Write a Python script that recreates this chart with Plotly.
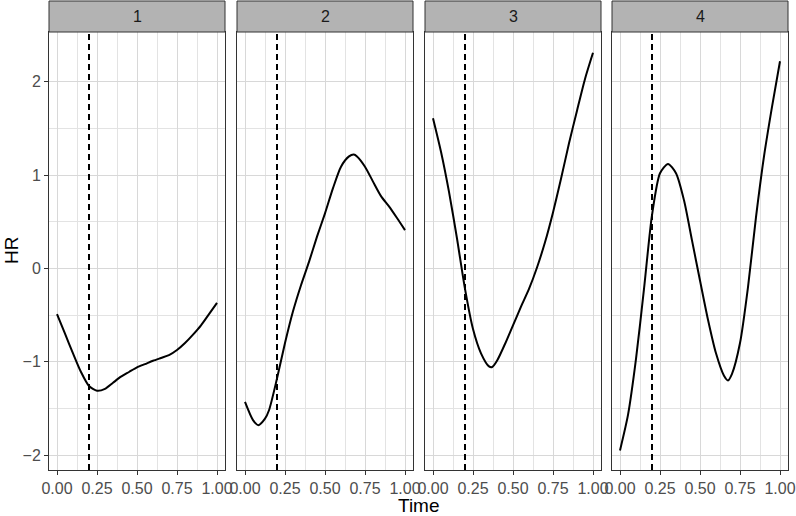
import plotly.graph_objects as go
from plotly.subplots import make_subplots

# values, one panel per facet
panels = ["1", "2", "3", "4"]

time_1 = [0.0, 0.05, 0.1, 0.15, 0.2, 0.25, 0.3, 0.35, 0.4, 0.45, 0.5, 0.55, 0.6, 0.65,
          0.7, 0.75, 0.8, 0.85, 0.9, 0.95, 1.0]
hr_1 = [-0.49, -0.70, -0.91, -1.11, -1.26, -1.31, -1.29, -1.225, -1.16, -1.11, -1.06,
        -1.025, -0.99, -0.96, -0.93, -0.875, -0.80, -0.71, -0.61, -0.49, -0.37]

time_2 = [0.0, 0.05, 0.083, 0.125, 0.15, 0.2, 0.25, 0.3, 0.35, 0.4, 0.45, 0.5, 0.55, 0.6,
          0.65, 0.68, 0.7, 0.75, 0.8, 0.85, 0.9, 0.95, 1.0]
hr_2 = [-1.43, -1.625, -1.68, -1.61, -1.52, -1.18, -0.80, -0.46, -0.18, 0.07, 0.34, 0.59,
        0.86, 1.09, 1.20, 1.22, 1.20, 1.09, 0.93, 0.775, 0.665, 0.54, 0.41]

time_3 = [0.0, 0.05, 0.1, 0.15, 0.2, 0.25, 0.3, 0.35, 0.37, 0.4, 0.45, 0.5, 0.55, 0.6,
          0.65, 0.7, 0.75, 0.8, 0.85, 0.9, 0.95, 1.0]
hr_3 = [1.61, 1.25, 0.82, 0.32, -0.22, -0.65, -0.91, -1.05, -1.057, -0.99, -0.81, -0.61,
        -0.41, -0.22, 0.01, 0.28, 0.60, 0.96, 1.34, 1.69, 2.03, 2.31]

time_4 = [0.0, 0.05, 0.1, 0.15, 0.2, 0.25, 0.3, 0.35, 0.4, 0.45, 0.5, 0.55, 0.6, 0.65, 0.675,
          0.7, 0.75, 0.8, 0.85, 0.9, 0.95, 1.0]
hr_4 = [-1.95, -1.57, -0.97, -0.22, 0.57, 1.02, 1.12, 1.02, 0.73, 0.30, -0.13, -0.55, -0.91,
        -1.15, -1.20, -1.13, -0.80, -0.20, 0.55, 1.20, 1.73, 2.22]

cutoff = 0.2
x_ticks = [0.0, 0.25, 0.5, 0.75, 1.0]
x_ticklabels = ["0.00", "0.25", "0.50", "0.75", "1.00"]
y_ticks = [-2, -1, 0, 1, 2]

times = [time_1, time_2, time_3, time_4]
hrs = [hr_1, hr_2, hr_3, hr_4]

W, H = 796, 516
# plot area in pixels (left, right, top, bottom)
L, R, T, B = 49, 788, 1, 470
pw, ph = R - L, B - T
panel_left = [49, 237, 425, 612]
panel_w = 176
panel_top = 32

fig = make_subplots(rows=1, cols=4)

for i in range(4):
    fig.add_trace(
        go.Scatter(
            x=times[i],
            y=hrs[i],
            mode="lines",
            line=dict(color="black", width=2, shape="spline", smoothing=0.7),
            showlegend=False,
            hoverinfo="skip",
        ),
        row=1,
        col=i + 1,
    )

font = "Liberation Sans, Arial, Helvetica, sans-serif"
ydom = [0, (B - panel_top) / ph]

for i in range(4):
    n = "" if i == 0 else str(i + 1)
    x0 = (panel_left[i] - L) / pw
    x1 = (panel_left[i] + panel_w - L) / pw
    fig.layout["xaxis" + n].update(
        domain=[x0, x1],
        range=[-0.05, 1.05],
        tickvals=x_ticks,
        ticktext=x_ticklabels,
        ticks="outside",
        ticklen=4,
        tickwidth=1,
        tickcolor="#333333",
        tickfont=dict(family=font, size=16, color="#4D4D4D"),
        ticklabelstandoff=0,
        showgrid=True,
        gridcolor="#D8D8D8",
        gridwidth=1.4,
        minor=dict(showgrid=True, tickvals=[0.125, 0.375, 0.625, 0.875],
                   gridcolor="#E3E3E3", gridwidth=0.8),
        zeroline=False,
        showline=True,
        linecolor="#333333",
        linewidth=1,
        mirror=True,
        automargin=False,
    )
    fig.layout["yaxis" + n].update(
        domain=ydom,
        range=[-2.16, 2.533],
        tickvals=y_ticks,
        showticklabels=(i == 0),
        ticks="outside" if i == 0 else "",
        ticklen=4,
        tickwidth=1,
        tickcolor="#333333",
        tickfont=dict(family=font, size=16, color="#4D4D4D"),
        showgrid=True,
        gridcolor="#D8D8D8",
        gridwidth=1.4,
        minor=dict(showgrid=True, tickvals=[-1.5, -0.5, 0.5, 1.5],
                   gridcolor="#E3E3E3", gridwidth=0.8),
        zeroline=False,
        showline=True,
        linecolor="#333333",
        linewidth=1,
        mirror=True,
        automargin=False,
    )

    # dashed reference line at the cutoff
    fig.add_shape(
        type="line",
        x0=cutoff, x1=cutoff, y0=0, y1=1,
        xref="x" + n, yref="y" + n + " domain",
        line=dict(color="black", width=2, dash="6px,4px"),
    )

    # facet strip
    fig.add_shape(
        type="rect",
        x0=x0, x1=x1, y0=ydom[1], y1=1,
        xref="paper", yref="paper",
        fillcolor="#B3B3B3",
        line=dict(color="#333333", width=1),
    )
    fig.add_annotation(
        x=(x0 + x1) / 2, y=(ydom[1] + 1) / 2,
        xref="paper", yref="paper",
        xanchor="center", yanchor="middle",
        text=panels[i], showarrow=False,
        font=dict(family=font, size=16, color="#1A1A1A"),
    )

# axis titles
fig.add_annotation(
    x=((panel_left[0] + panel_left[3] + panel_w) / 2 - L) / pw, y=(B - 505) / ph,
    xref="paper", yref="paper", xanchor="center", yanchor="middle",
    text="Time", showarrow=False,
    font=dict(family=font, size=19, color="black"),
)
fig.add_annotation(
    x=(11 - L) / pw, y=sum(ydom) / 2,
    xref="paper", yref="paper", xanchor="center", yanchor="middle",
    text="HR", showarrow=False, textangle=-90,
    font=dict(family=font, size=19, color="black"),
)

fig.update_layout(
    width=W,
    height=H,
    margin=dict(l=L, r=W - R, t=T, b=H - B, autoexpand=False),
    paper_bgcolor="white",
    plot_bgcolor="white",
    showlegend=False,
)

# drop the browser's default body margin so the figure sits at the page corner
fig.write_html(
    "out.html",
    config={"displayModeBar": False},
    post_script="document.body.style.margin='0';",
)
